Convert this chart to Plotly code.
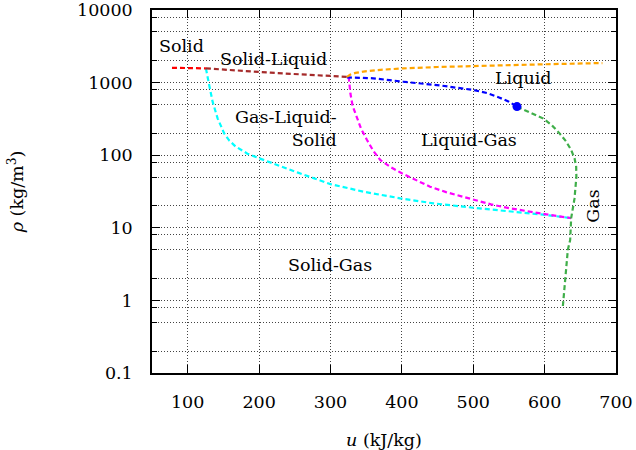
import numpy as np
import plotly.graph_objects as go

# ---- data (u in kJ/kg, rho in kg/m^3) ----
solid_u = [78, 125.5]
solid_rho = [1600, 1570]

triple_sl_u = [125.5, 216, 323]
triple_sl_rho = [1570, 1368, 1200]

melt_u = [323, 328, 335, 346, 370, 402, 450, 500, 543, 602, 681]
melt_rho = [1200, 1290, 1360, 1420, 1500, 1570, 1640, 1700, 1750, 1790, 1860]

liq_u = [323, 360, 402, 453, 500, 520, 537, 550, 561.3]
liq_rho = [1180, 1146, 1028, 915, 791, 715, 620, 545, 467]

vap_u = [561.3, 580, 597.6, 610, 620.9, 630, 637.2, 642, 644.2, 644.5, 643.5, 641.8, 637.2, 635.8, 632.5, 629.2, 625.5]
vap_rho = [467, 390, 322, 260, 200, 155, 118, 90, 69.5, 50, 36.8, 25, 13.6, 6.8, 4.95, 1.91, 0.82]

lg_u = [325.5, 326.5, 327.9, 331, 337.2, 343, 351.2, 360, 369.7, 385, 400, 420, 439.5, 462, 486, 500, 525, 551.1, 575, 602.3, 637.2]
lg_rho = [1205, 950, 712, 480, 339, 230, 162, 115, 85.9, 68, 56.3, 45, 36.8, 31, 26.8, 24.1, 21, 18.6, 16.8, 15.3, 13.6]

sg_u = [125.5, 127.5, 130.1, 134.9, 141.9, 151.1, 158, 167, 183.7, 202.3, 225.6, 253.5, 300,
        346.4, 397.6, 444.1, 499.9, 551.1, 602.3, 637.2]
sg_rho = [1570, 1200, 927, 546, 322, 200, 160, 132, 105, 89, 73, 58, 40,
          31.4, 25.5, 21.7, 18.9, 17.0, 15.0, 13.6]

crit_u = [561.3]
crit_rho = [467]

x_ticks = [100, 200, 300, 400, 500, 600, 700]
y_ticks = [0.1, 1, 10, 100, 1000, 10000]
y_tick_text = ["0.1", "1", "10", "100", "1000", "10000"]
y_minor = [m * 10.0 ** k for k in range(-1, 4) for m in (2, 5, 8)]

labels = [
    ("Solid", 90.7, 3190, 0),
    ("Solid-Liquid", 219.7, 2113, 0),
    ("Liquid", 570, 1155, 0),
    ("Liquid-Gas", 494, 162, 0),
    ("Solid-Gas", 299.5, 3.08, 0),
    ("Gas", 667.4, 20, -90),
]

FONT = "DejaVu Serif"
FS = 17.5
DASH = "5px,3px"

fig = go.Figure()

def add_line(u, r, color):
    fig.add_trace(go.Scatter(x=u, y=r, mode="lines",
                             line=dict(color=color, width=2.2, dash=DASH),
                             showlegend=False, hoverinfo="skip"))

add_line(sg_u, sg_rho, "#00ffff")
add_line(lg_u, lg_rho, "#ff00ff")
add_line(vap_u, vap_rho, "#3fae49")
add_line(liq_u, liq_rho, "#0000ff")
add_line(melt_u, melt_rho, "#ffa500")
add_line(solid_u, solid_rho, "#ff0000")
add_line(triple_sl_u, triple_sl_rho, "#a52a2a")

fig.add_trace(go.Scatter(x=crit_u, y=crit_rho, mode="markers",
                         marker=dict(color="#0000ff", size=9), showlegend=False, hoverinfo="skip"))

for txt, u, r, ang in labels:
    fig.add_annotation(x=u, y=np.log10(r), text=txt, showarrow=False, textangle=ang,
                       font=dict(family=FONT, size=FS, color="black"))

fig.add_annotation(x=237.2, y=np.log10(230), text="Gas-Liquid-<br>Solid", showarrow=False,
                   align="right", font=dict(family=FONT, size=FS, color="black"))

grid = dict(showgrid=True, gridcolor="#444", gridwidth=1, griddash="1px,2px")

fig.update_xaxes(range=[50, 700], tickvals=x_ticks, ticks="inside", ticklen=8,
                 tickcolor="black", tickwidth=1, mirror="allticks", showline=True,
                 linecolor="black", linewidth=1.5, zeroline=False, automargin=False,
                 ticklabelstandoff=12, ticklabeloverflow="allow",
                 title=dict(text="<i>u</i> (kJ/kg)", standoff=26,
                            font=dict(family=FONT, size=FS, color="black")),
                 tickfont=dict(family=FONT, size=FS, color="black"), **grid)

fig.update_yaxes(type="log", range=[-1, 4], tickvals=y_ticks, ticktext=y_tick_text,
                 ticks="inside", ticklen=8, tickcolor="black", tickwidth=1,
                 mirror="allticks", showline=True, linecolor="black", linewidth=1.5,
                 zeroline=False, ticklabelstandoff=14, automargin=False,
                 ticklabeloverflow="allow",
                 minor=dict(tickvals=y_minor, ticks="inside", ticklen=5, tickcolor="black",
                            showgrid=True, gridcolor="#444", gridwidth=1, griddash="1px,2px"),
                 title=dict(text="<i>ρ</i> (kg/m<sup>3</sup>)", standoff=49,
                            font=dict(family=FONT, size=FS, color="black")),
                 tickfont=dict(family=FONT, size=FS, color="black"), **grid)

fig.update_layout(width=636, height=450, margin=dict(l=152, r=20, t=10, b=77),
                  plot_bgcolor="white", paper_bgcolor="white",
                  font=dict(family=FONT, size=FS, color="black"))

fig.write_html("out.html")
